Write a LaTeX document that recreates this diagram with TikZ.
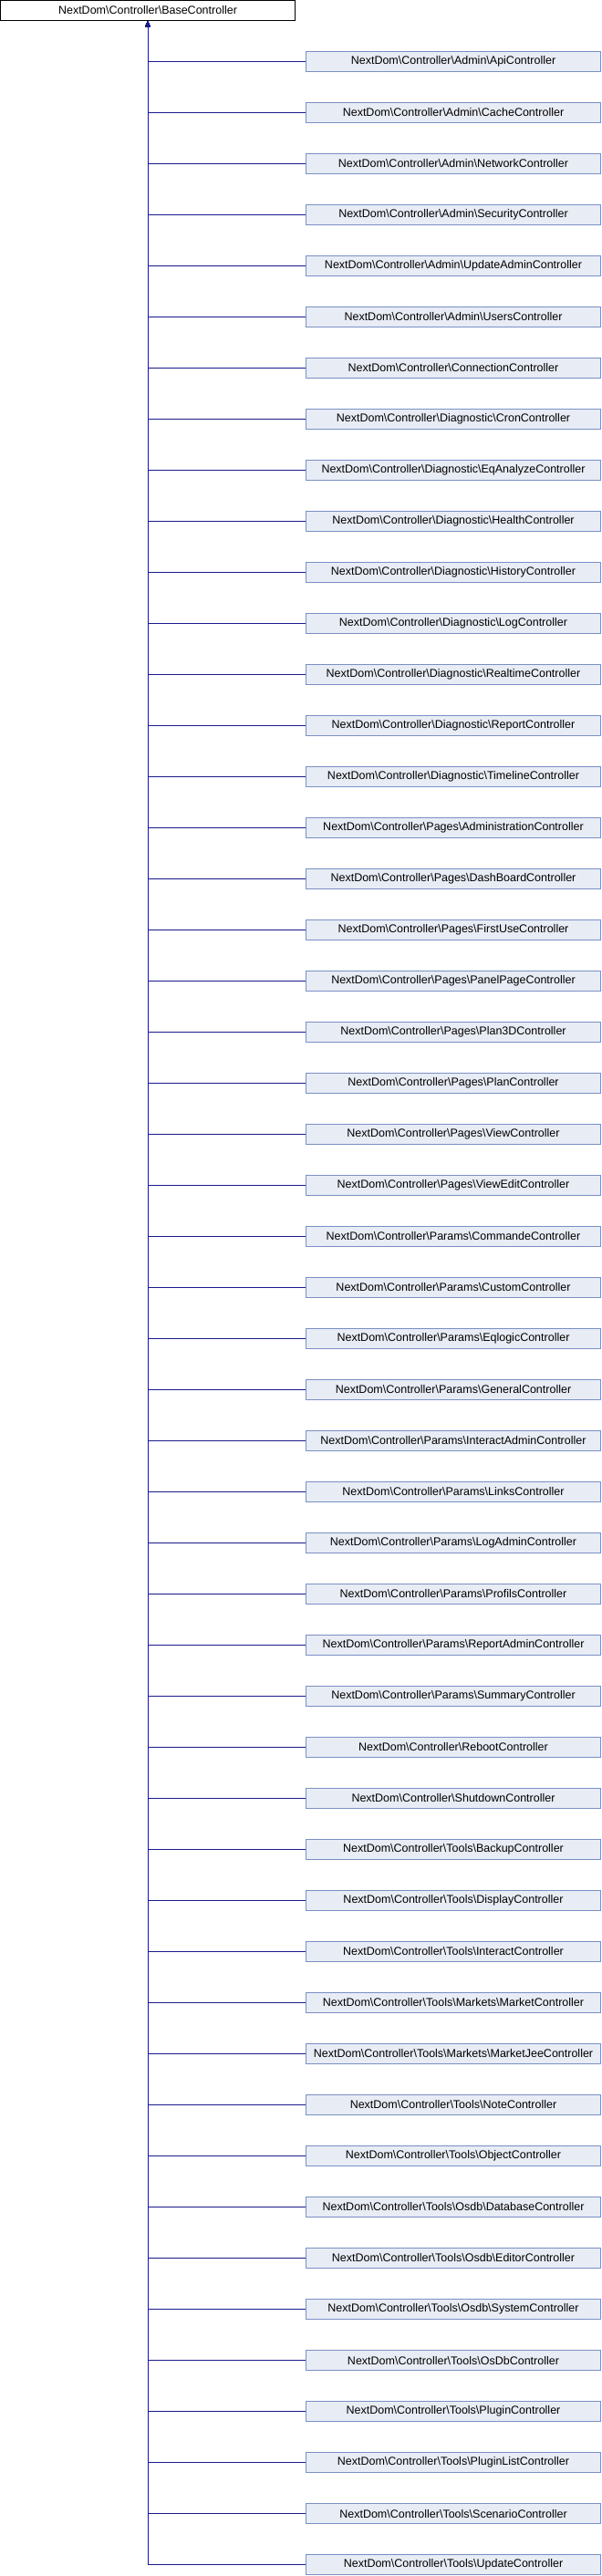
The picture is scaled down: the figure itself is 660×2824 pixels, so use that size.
\documentclass[tikz,border=0pt]{standalone}
\usepackage{fontspec}
\setmainfont{Liberation Sans}
\usetikzlibrary{arrows.meta}
\definecolor{edgeblue}{HTML}{1A1A8C}
\definecolor{boxfill}{HTML}{E8ECF5}
\definecolor{boxline}{HTML}{7A90C4}
\newcommand{\bsl}{\textbackslash}
\begin{document}
\begin{tikzpicture}[x=1pt,y=1pt,
  basebox/.style={draw=black,fill=white,line width=1pt,minimum width=323pt,minimum height=22pt,inner sep=0pt,font=\fontsize{12.5}{14}\selectfont},
  childbox/.style={draw=boxline,fill=boxfill,line width=1pt,minimum width=323pt,minimum height=22pt,inner sep=0pt,font=\fontsize{12.5}{14}\selectfont},
  inherit/.style={draw=edgeblue,line width=1pt,-{Triangle[length=6pt,width=5pt]}}]
\useasboundingbox (0,0) rectangle (660,-2824);
\node[basebox] (base) at (162,-11.5) {NextDom\bsl Controller\bsl BaseController};
\foreach \name [count=\k from 0] in {
Admin\bsl ApiController,
Admin\bsl CacheController,
Admin\bsl NetworkController,
Admin\bsl SecurityController,
Admin\bsl UpdateAdminController,
Admin\bsl UsersController,
ConnectionController,
Diagnostic\bsl CronController,
Diagnostic\bsl EqAnalyzeController,
Diagnostic\bsl HealthController,
Diagnostic\bsl HistoryController,
Diagnostic\bsl LogController,
Diagnostic\bsl RealtimeController,
Diagnostic\bsl ReportController,
Diagnostic\bsl TimelineController,
Pages\bsl AdministrationController,
Pages\bsl DashBoardController,
Pages\bsl FirstUseController,
Pages\bsl PanelPageController,
Pages\bsl Plan3DController,
Pages\bsl PlanController,
Pages\bsl ViewController,
Pages\bsl ViewEditController,
Params\bsl CommandeController,
Params\bsl CustomController,
Params\bsl EqlogicController,
Params\bsl GeneralController,
Params\bsl InteractAdminController,
Params\bsl LinksController,
Params\bsl LogAdminController,
Params\bsl ProfilsController,
Params\bsl ReportAdminController,
Params\bsl SummaryController,
RebootController,
ShutdownController,
Tools\bsl BackupController,
Tools\bsl DisplayController,
Tools\bsl InteractController,
Tools\bsl Markets\bsl MarketController,
Tools\bsl Markets\bsl MarketJeeController,
Tools\bsl NoteController,
Tools\bsl ObjectController,
Tools\bsl Osdb\bsl DatabaseController,
Tools\bsl Osdb\bsl EditorController,
Tools\bsl Osdb\bsl SystemController,
Tools\bsl OsDbController,
Tools\bsl PluginController,
Tools\bsl PluginListController,
Tools\bsl ScenarioController,
Tools\bsl UpdateController}{
  \node[childbox] (c\k) at (497,{-67.5-56*\k}) {NextDom\bsl Controller\bsl \name};
  \draw[inherit] (c\k.west) -| (base.south);
}
\end{tikzpicture}
\end{document}
